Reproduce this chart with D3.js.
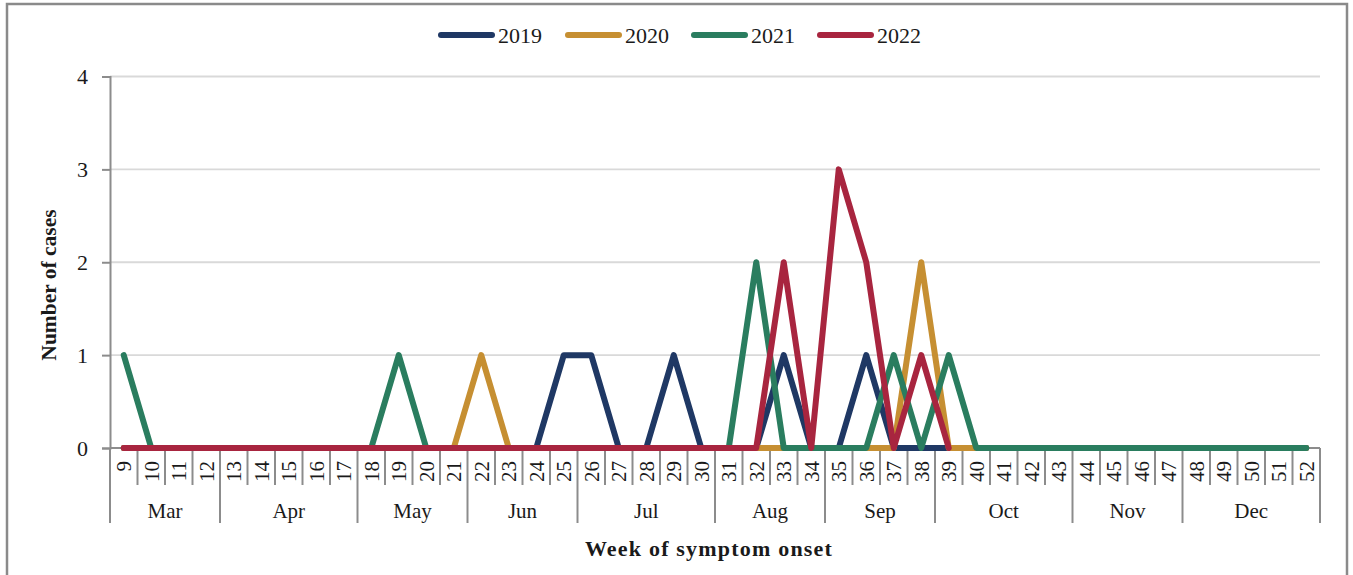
<!DOCTYPE html>
<html>
<head>
<meta charset="utf-8">
<script src="https://cdn.jsdelivr.net/npm/d3@7"></script>
<style>
  html, body { margin: 0; padding: 0; background: #fff; }
  svg { display: block; }
  text { font-family: "Liberation Serif", "DejaVu Serif", serif; fill: #1a1a1a; }
</style>
</head>
<body>
<svg id="chart" width="1353" height="575"></svg>
<script>
// ---- data ----
const weeks = d3.range(9, 53);            // epi weeks 9..52
const years = ["2019", "2020", "2021", "2022"];
const cases2019 = [0,0,0,0,0,0,0,0,0,0,0,0,0,0,0,0,1,1,0,0,1,0,0,0,1,0,0,1,0,0,0,0,0,0,0,0,0,0,0,0,0,0,0,0];
const cases2020 = [0,0,0,0,0,0,0,0,0,0,0,0,0,1,0,0,0,0,0,0,0,0,0,0,0,0,0,0,0,2,0,0,0,0,0,0,0,0,0,0,0,0,0,0];
const cases2021 = [1,0,0,0,0,0,0,0,0,0,1,0,0,0,0,0,0,0,0,0,0,0,0,2,0,0,0,0,1,0,1,0,0,0,0,0,0,0,0,0,0,0,0,0];
const cases2022 = [0,0,0,0,0,0,0,0,0,0,0,0,0,0,0,0,0,0,0,0,0,0,0,0,2,0,3,2,0,1,0];
const months = ["Mar","Apr","May","Jun","Jul","Aug","Sep","Oct","Nov","Dec"];
const monthStartWeek = [9, 13, 18, 22, 26, 31, 35, 39, 44, 48];
const yTicks = [0, 1, 2, 3, 4];
const colors = ["#1f3864", "#c68f32", "#2a7d5f", "#a8253f"];
const seriesData = [cases2019, cases2020, cases2021, cases2022];

// ---- layout ----
const svg = d3.select("#chart");
const plotL = 110, plotR = 1320, plotT = 76.5, plotB = 448;
const axisGray = "#8c8c8c";

// frame
svg.append("rect").attr("x", 7).attr("y", 4).attr("width", 1340).attr("height", 600)
  .attr("fill", "none").attr("stroke", "#8a8a8a").attr("stroke-width", 2.5);

const x = d3.scaleBand().domain(weeks).range([plotL, plotR]).paddingInner(0).paddingOuter(0);
const cx = w => x(w) + x.bandwidth() / 2;
const y = d3.scaleLinear().domain([0, 4]).range([plotB, plotT]);

// gridlines
svg.append("g").selectAll("line").data(yTicks.filter(d => d > 0)).join("line")
  .attr("x1", plotL).attr("x2", plotR)
  .attr("y1", d => y(d)).attr("y2", d => y(d))
  .attr("stroke", "#d9d9d9").attr("stroke-width", 1.8);

// y axis
const yAxis = d3.axisLeft(y).tickValues(yTicks).tickSize(8).tickPadding(14).tickFormat(d3.format("d"));
const gy = svg.append("g").attr("transform", `translate(${plotL},0)`).call(yAxis);
gy.select(".domain").attr("stroke", axisGray).attr("stroke-width", 2);
gy.selectAll(".tick line").attr("stroke", axisGray).attr("stroke-width", 2);
gy.selectAll(".tick text").style("font-family", "Liberation Serif").style("font-size", "22px").attr("fill", "#1a1a1a");

// x axis baseline
svg.append("line").attr("x1", plotL).attr("x2", plotR).attr("y1", plotB).attr("y2", plotB)
  .attr("stroke", axisGray).attr("stroke-width", 2);

// week separators
const boundaries = weeks.map(w => x(w)).concat([plotR]);
const monthBoundaryX = monthStartWeek.map(w => x(w)).concat([plotR]);
svg.append("g").selectAll("line").data(boundaries).join("line")
  .attr("x1", d => d).attr("x2", d => d)
  .attr("y1", plotB).attr("y2", d => monthBoundaryX.some(m => Math.abs(m - d) < 0.5) ? 523 : 485)
  .attr("stroke", axisGray).attr("stroke-width", 2);

// week labels (rotated)
svg.append("g").selectAll("text").data(weeks).join("text")
  .attr("transform", d => `translate(${cx(d)},461) rotate(-90)`)
  .attr("text-anchor", "end").attr("dy", "0.35em")
  .style("font-size", "21px")
  .text(d => d);

// month labels
svg.append("g").selectAll("text").data(months).join("text")
  .attr("x", (d, i) => (monthBoundaryX[i] + monthBoundaryX[i + 1]) / 2)
  .attr("y", 518).attr("text-anchor", "middle")
  .style("font-size", "21px")
  .text(d => d);

// axis titles
svg.append("text").attr("x", 709).attr("y", 556).attr("text-anchor", "middle")
  .style("font-size", "22px").style("font-weight", "bold").style("letter-spacing", "1.2px")
  .text("Week of symptom onset");
svg.append("text").attr("transform", "translate(56,285) rotate(-90)").attr("text-anchor", "middle")
  .style("font-size", "21.5px").style("font-weight", "bold")
  .text("Number of cases");

// series lines
const line = d3.line().x((d, i) => cx(weeks[i])).y(d => y(d));
svg.append("g").selectAll("path").data(seriesData).join("path")
  .attr("d", d => line(d))
  .attr("fill", "none")
  .attr("stroke", (d, i) => colors[i])
  .attr("stroke-width", 6)
  .attr("stroke-linejoin", "round")
  .attr("stroke-linecap", "round");

// legend
const legendX = [441, 568, 694, 820];
const lg = svg.append("g").selectAll("g").data(years).join("g")
  .attr("transform", (d, i) => `translate(${legendX[i]},35)`);
lg.append("line").attr("x1", 0).attr("x2", 51).attr("y1", 0).attr("y2", 0)
  .attr("stroke", (d, i) => colors[i]).attr("stroke-width", 6).attr("stroke-linecap", "round");
lg.append("text").attr("x", 57).attr("y", 0).attr("dy", "0.35em")
  .style("font-size", "22px").text(d => d);
</script>
</body>
</html>
